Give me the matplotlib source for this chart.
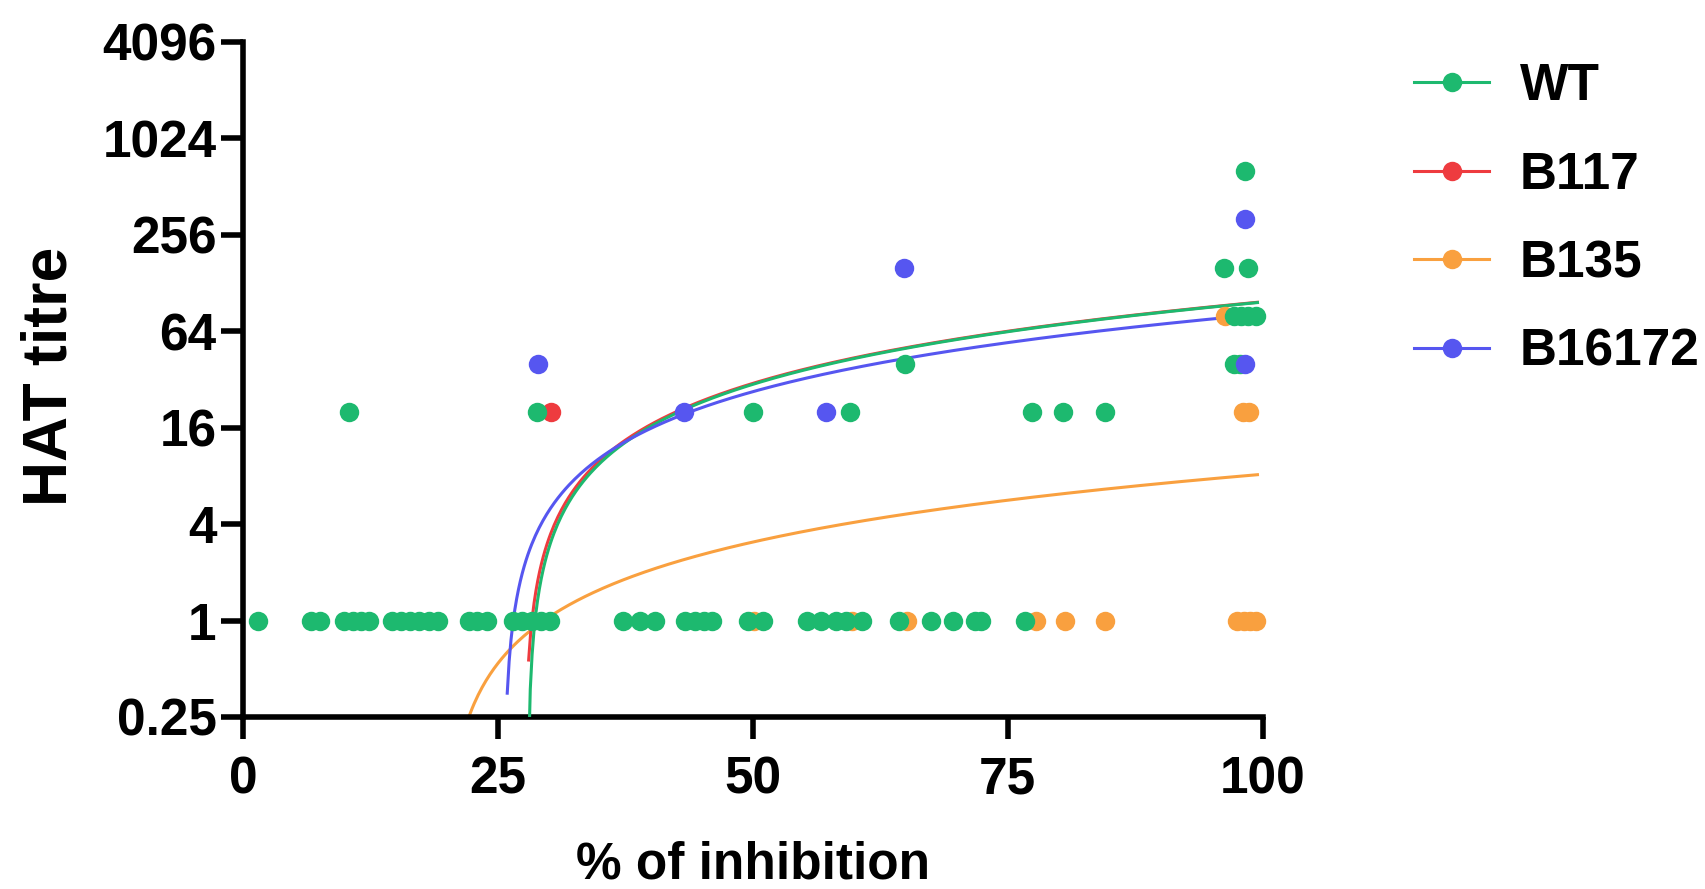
import numpy as np
import matplotlib
matplotlib.use("Agg")
import matplotlib.pyplot as plt
from matplotlib.lines import Line2D

plt.rcParams['font.family'] = ['Liberation Sans', 'DejaVu Sans']
plt.rcParams['font.weight'] = 'bold'

# colours of the four variants
GREEN = "#1db96f"
RED = "#ee3b3f"
ORANGE = "#f9a03f"
BLUE = "#5656f0"

# WT
wt_x = [1.5, 6.7, 7.6, 9.9, 10.8, 11.6, 12.4, 14.6, 15.5, 16.4, 17.3, 18.2, 19.1,
        22.2, 23.0, 23.9, 26.5, 27.4, 28.3, 29.2, 30.1, 37.3, 38.9, 40.4,
        43.4, 44.3, 45.2, 46.0, 49.5, 51.0, 55.3, 56.7, 58.2, 59.1, 60.7,
        64.3, 67.5, 69.6, 71.8, 72.4, 76.7,
        10.4, 28.8, 50.0, 59.5, 77.4, 80.4, 84.5,
        64.9, 97.2, 97.8,
        97.2, 97.9, 98.6, 99.4,
        96.2, 98.6,
        98.3]
wt_y = [1] * 41 + [20] * 7 + [40] * 3 + [80] * 4 + [160] * 2 + [640]

# B117
b117_x = [30.2]
b117_y = [20]

# B135
b135_x = [50.1, 59.7, 65.1, 77.8, 80.6, 84.5, 97.5, 98.2, 98.8, 99.4, 98.1, 98.7, 96.3]
b135_y = [1] * 10 + [20, 20, 80]

# B16172
b16172_x = [28.9, 43.3, 57.2, 64.8, 98.3, 98.3]
b16172_y = [40, 20, 20, 160, 40, 320]

# linear fits (slope, intercept, first x drawn, last x drawn)
fit_wt = (1.35, -37.67, 28.0, 99.5)
fit_b117 = (1.35, -37.26, 28.02, 99.5)
fit_b135 = (0.102, -2.01, 21.9, 99.5)
fit_b16172 = (1.10, -28.16, 25.92, 99.5)

y_ticks = [0.25, 1, 4, 16, 64, 256, 1024, 4096]
y_tick_labels = ["0.25", "1", "4", "16", "64", "256", "1024", "4096"]
x_ticks = [0, 25, 50, 75, 100]

fig = plt.figure(figsize=(17.05, 8.89), dpi=100)
ax = fig.add_axes([0.1425, 0.1935, 0.598, 0.7593])

series = [
    ("WT", wt_x, wt_y, fit_wt, GREEN, 4),
    ("B117", b117_x, b117_y, fit_b117, RED, 3),
    ("B135", b135_x, b135_y, fit_b135, ORANGE, 2),
    ("B16172", b16172_x, b16172_y, fit_b16172, BLUE, 5),
]

for name, xs, ys, fit, col, z in series:
    slope, icpt, x0, x1 = fit
    xx = np.linspace(x0, x1, 400)
    yy = slope * xx + icpt
    yy = np.where(yy > 0, yy, np.nan)
    ax.plot(xx, yy, color=col, lw=2.2, zorder=z, clip_on=True)

for name, xs, ys, fit, col, z in series:
    ax.plot(xs, ys, 'o', color=col, ms=14, mec='none', zorder=z + 10,
            clip_on=False)

ax.set_yscale('log', base=2)
ax.set_ylim(0.25, 4096)
ax.set_xlim(0, 100)
ax.set_yticks(y_ticks)
ax.set_yticklabels(y_tick_labels)
ax.set_xticks(x_ticks)
ax.yaxis.set_minor_locator(matplotlib.ticker.NullLocator())

for s in ['top', 'right']:
    ax.spines[s].set_visible(False)
for s in ['left', 'bottom']:
    ax.spines[s].set_linewidth(4)
ax.tick_params(axis='both', which='major', length=16, width=4, labelsize=37)
ax.tick_params(axis='x', pad=12)
ax.tick_params(axis='y', pad=3)

ax.set_xlabel("% of inhibition", fontsize=37, fontweight='bold')
ax.set_ylabel("HAT titre", fontsize=45, fontweight='bold')
ax.xaxis.set_label_coords(0.5, -0.183)
ax.yaxis.set_label_coords(-0.160, 0.505)

handles = [Line2D([0], [0], color=c, lw=2.2, marker='o', ms=14, mec='none')
           for _, _, _, _, c, _ in series]
labels = [s[0] for s in series]
fig.legend(handles, labels, loc='upper left', bbox_to_anchor=(0.8145, 0.959),
           frameon=False, fontsize=37, handlelength=1.45, handletextpad=0.6,
           labelspacing=0.77, borderpad=0)

fig.savefig("out.png", dpi=100)
